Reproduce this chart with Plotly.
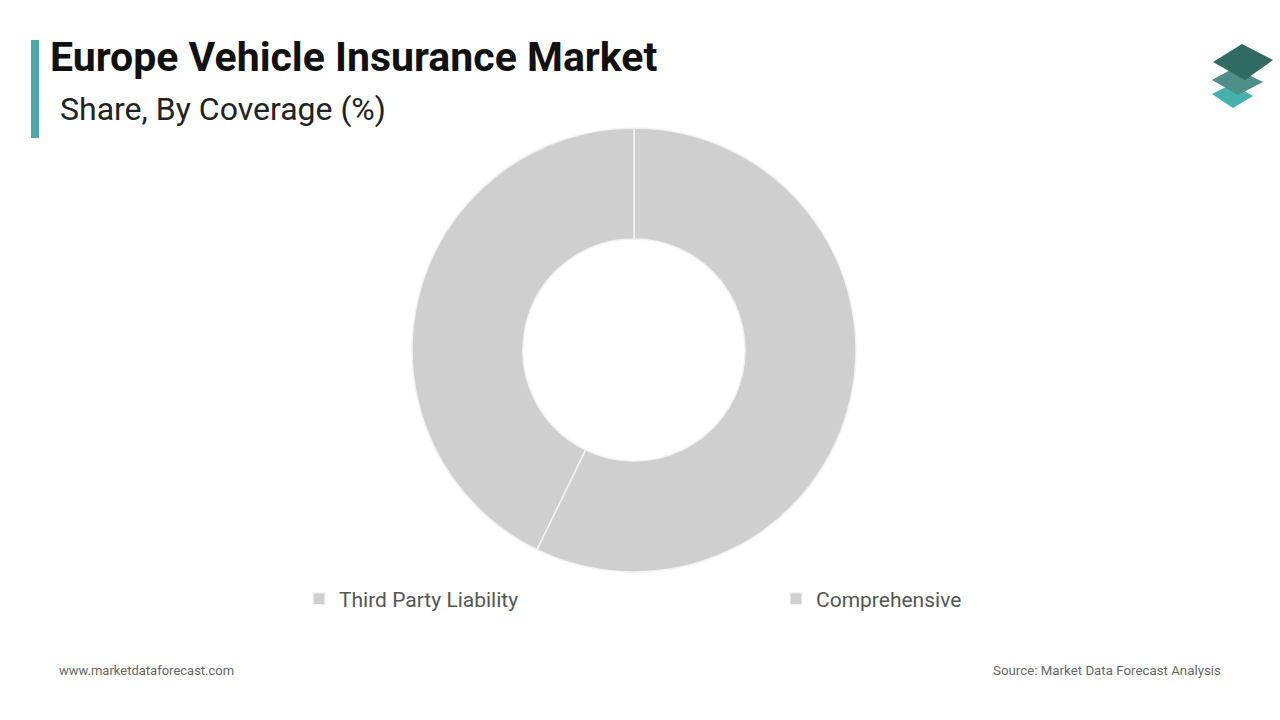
import plotly.graph_objects as go

# datos del gráfico
coverage = ["Third Party Liability", "Comprehensive"]
share = [57.2, 42.8]
slice_colors = ["#d0cfd0", "#d0cfd0"]

title = "Europe Vehicle Insurance Market"
subtitle = "Share, By Coverage (%)"
site = "www.marketdataforecast.com"
source = "Source: Market Data Forecast Analysis"

W, H = 1280, 720

fig = go.Figure()
fig.add_trace(go.Pie(labels=coverage, values=share,
                     hole=0.5, sort=False, direction="clockwise", rotation=0,
                     marker=dict(colors=slice_colors, line=dict(color="#f2f2f2", width=1.5)),
                     textinfo="none", hoverinfo="label+percent",
                     domain=dict(x=[(634 - 222) / W, (634 + 222) / W],
                                 y=[(720 - 350 - 222) / H, (720 - 350 + 222) / H])))

# barra de color y logo
shapes = [dict(type="rect", xref="paper", yref="paper",
               x0=31 / W, x1=39 / W, y0=1 - 138 / H, y1=1 - 40 / H,
               fillcolor="#4aa9a7", line=dict(width=0))]

def rombo(pts, color):
    path = "M " + " L ".join("%f,%f" % (x / W, 1 - y / H) for x, y in pts) + " Z"
    return dict(type="path", xref="paper", yref="paper", path=path,
                fillcolor=color, line=dict(width=0))

shapes.append(rombo([(1212, 94), (1232, 84), (1253, 96), (1233, 108)], "#45b1ad"))
shapes.append(rombo([(1212, 80), (1234, 68), (1263, 82), (1238, 95)], "#4f8d88"))
shapes.append(rombo([(1213, 62), (1242, 44), (1273, 60), (1245, 80)], "#2f6a63"))

annotations = [
    dict(text="<b>" + title + "</b>", x=48 / W, y=1 - 57 / H, xref="paper", yref="paper",
         xanchor="left", yanchor="middle", showarrow=False,
         font=dict(family="Roboto", size=41, color="#111111")),
    dict(text=subtitle, x=58 / W, y=1 - 109 / H, xref="paper", yref="paper",
         xanchor="left", yanchor="middle", showarrow=False,
         font=dict(family="Roboto", size=32, color="#222222")),
    dict(text=site, x=57 / W, y=1 - 670 / H, xref="paper", yref="paper",
         xanchor="left", yanchor="middle", showarrow=False,
         font=dict(family="Roboto", size=13, color="#666666")),
    dict(text=source, x=1223 / W, y=1 - 670 / H, xref="paper", yref="paper",
         xanchor="right", yanchor="middle", showarrow=False,
         font=dict(family="Roboto", size=13.3, color="#666666")),
]

fig.update_layout(width=W, height=H, margin=dict(l=0, r=0, t=0, b=0),
                  paper_bgcolor="white", plot_bgcolor="white",
                  shapes=shapes, annotations=annotations,
                  legend=dict(orientation="h", x=299 / W, y=1 - 599 / H,
                              xanchor="left", yanchor="middle",
                              bgcolor="rgba(0,0,0,0)",
                              entrywidth=432, entrywidthmode="pixels",
                              font=dict(family="Roboto", size=21, color="#555555")))

fig.write_html("out.html", config={"displayModeBar": False},
               post_script="document.body.style.margin='0';")
